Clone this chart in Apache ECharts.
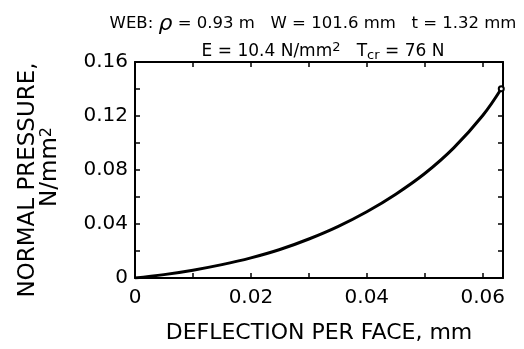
<!DOCTYPE html>
<html><head><meta charset="utf-8">
<script src="https://cdn.jsdelivr.net/npm/echarts@6/dist/echarts.min.js"></script>
<style>html,body{margin:0;padding:0;background:#fff}#c{width:524px;height:349px}</style>
</head><body><div id="c"></div>
<script>
var deflection = [0, 0.005, 0.01, 0.015, 0.02, 0.025, 0.03, 0.035, 0.04, 0.045, 0.05, 0.055, 0.06, 0.0632];
var pressure = [0, 0.0025, 0.0058, 0.0099, 0.0149, 0.0211, 0.0289, 0.0381, 0.0491, 0.0621, 0.0774, 0.0964, 0.1204, 0.1402];
var xTicks = [0, 0.02, 0.04, 0.06];
var yTicks = [0, 0.04, 0.08, 0.12, 0.16];
var titleLine1 = 'WEB: {rho|ρ} = 0.93 m   W = 101.6 mm   t = 1.32 mm';
var titleLine2 = 'E = 10.4 N/mm{sup|2}   T{sub|cr} = 76 N';
var yName = 'NORMAL PRESSURE,\n{u|N/mm}{sup|2}';
var xName = 'DEFLECTION PER FACE, mm';

var FONT = 'DejaVu Sans';
var chart = echarts.init(document.getElementById('c'), null, {renderer: 'canvas'});
var pts = deflection.map(function (d, i) { return [d, pressure[i]]; });
var lineStyle = {color: '#000', width: 2};
var tick = {show: true, inside: true, length: 5, lineStyle: {color: '#000', width: 1.5}};
var minor = {show: true, splitNumber: 2, length: 5, lineStyle: {color: '#000', width: 1.5}};
function fmt(v) {
  var hit = null;
  xTicks.concat(yTicks).forEach(function (t) { if (Math.abs(t - v) < 1e-9) hit = t; });
  return hit === null ? '' : (hit === 0 ? '0' : hit.toFixed(2));
}
chart.setOption({
  animation: false,
  backgroundColor: '#fff',
  title: [
    {text: titleLine1, left: 308, top: 8, textAlign: 'center',
      textStyle: {fontFamily: FONT, fontSize: 16.5, fontWeight: 'normal', color: '#000',
        rich: {rho: {fontFamily: FONT, fontSize: 22, fontStyle: 'italic', color: '#000'}}}},
    {text: titleLine2, left: 318, top: 36, textAlign: 'center',
      textStyle: {fontFamily: FONT, fontSize: 17, fontWeight: 'normal', color: '#000',
        rich: {sup: {fontFamily: FONT, fontSize: 13, verticalAlign: 'top', padding: [0, 0, 8, 0], color: '#000'},
               sub: {fontFamily: FONT, fontSize: 13, padding: [8, 0, 0, 0], color: '#000'}}}}
  ],
  grid: {left: 135, right: 21, top: 62, bottom: 71, show: false},
  xAxis: [
    {type: 'value', min: 0, max: 0.0635, interval: 0.02, position: 'bottom',
      axisLine: {show: true, onZero: false, lineStyle: lineStyle},
      axisTick: tick, minorTick: minor, splitLine: {show: false},
      axisLabel: {formatter: fmt, fontFamily: FONT, fontSize: 20, color: '#000', margin: 10, showMaxLabel: false},
      name: xName, nameLocation: 'middle', nameGap: 44,
      nameTextStyle: {fontFamily: FONT, fontSize: 22, color: '#000'}},
    {type: 'value', min: 0, max: 0.0635, interval: 0.02, position: 'top',
      axisLine: {show: true, onZero: false, lineStyle: lineStyle},
      axisTick: tick, minorTick: minor, splitLine: {show: false}, axisLabel: {show: false}}
  ],
  yAxis: [
    {type: 'value', min: 0, max: 0.16, interval: 0.04, position: 'left',
      axisLine: {show: true, onZero: false, lineStyle: lineStyle},
      axisTick: tick, minorTick: minor, splitLine: {show: false},
      axisLabel: {formatter: fmt, fontFamily: FONT, fontSize: 20, color: '#000', margin: 7},
      name: yName, nameLocation: 'middle', nameRotate: 90, nameGap: 74,
      nameTextStyle: {fontFamily: FONT, fontSize: 23, color: '#000', lineHeight: 22, align: 'center',
        padding: [0, 20, 0, 0],
        rich: {u: {fontFamily: FONT, fontSize: 23, color: '#000', padding: [0, 0, 0, 26]},
               sup: {fontFamily: FONT, fontSize: 16, verticalAlign: 'top', padding: [0, 0, 10, 0], color: '#000'}}}},
    {type: 'value', min: 0, max: 0.16, interval: 0.04, position: 'right',
      axisLine: {show: true, onZero: false, lineStyle: lineStyle},
      axisTick: tick, minorTick: minor, splitLine: {show: false}, axisLabel: {show: false}}
  ],
  series: [{
    type: 'line', data: pts, smooth: 0.4,
    symbol: 'emptyCircle',
    symbolSize: function (v, p) { return p.dataIndex === deflection.length - 1 ? 5 : 0; },
    showAllSymbol: true,
    itemStyle: {color: '#000', borderColor: '#000', borderWidth: 1},
    lineStyle: {color: '#000', width: 3}
  }]
});
</script></body></html>
